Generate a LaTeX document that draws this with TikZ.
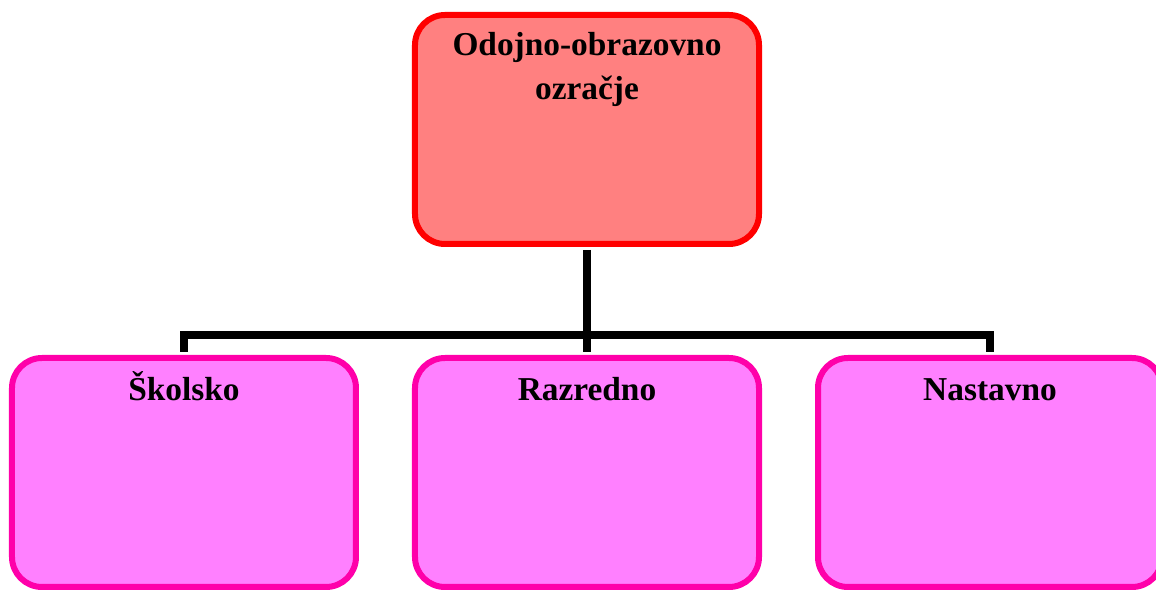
\documentclass[tikz,border=0pt]{standalone}
\usepackage{fontspec}
\setmainfont{Liberation Serif}
\usepackage{tikz}
\usetikzlibrary{shapes,arrows}
\usetikzlibrary{positioning}
\definecolor{boxred}{RGB}{255,0,0}
\definecolor{fillred}{RGB}{255,128,128}
\definecolor{boxpink}{RGB}{255,0,170}
\definecolor{fillpink}{RGB}{255,128,255}
\tikzstyle{box} = [draw, rectangle, rounded corners=0.6cm, line width=0.12cm,
    minimum width=6.88cm, minimum height=4.58cm, inner sep=0pt]
\tikzstyle{head} = [box, draw=boxred, fill=fillred]
\tikzstyle{area} = [box, draw=boxpink, fill=fillpink]
\tikzstyle{title} = [anchor=base, inner sep=0pt, text width=6.5cm, align=center,
    font=\bfseries\fontsize{19}{25}\selectfont]
\tikzstyle{conn} = [draw, line width=0.15cm, shorten <=0.06cm, shorten >=0.06cm]

\begin{document}
\begin{tikzpicture}[node distance = 6.86cm, auto]
  \useasboundingbox (-11.74,2.59) rectangle (11.38,-9.23);
  \node [head] (odo) at (0,0) {};
  \node [area, below of=odo] (raz) {};
  \node [area, left of=raz, node distance = 8.06cm] (sko) {};
  \node [area, right of=raz, node distance = 8.06cm] (nas) {};
  \node [title] (odot) at ([yshift=-0.87cm]odo.north) {Odojno-obrazovno\\ozračje};
  \node [title] (skot) at ([yshift=-0.92cm]sko.north) {Školsko};
  \node [title] (razt) at ([yshift=-0.92cm]raz.north) {Razredno};
  \node [title] (nast) at ([yshift=-0.92cm]nas.north) {Nastavno};
  \coordinate (bus) at ([yshift=-1.76cm]odo.south);
  \draw [conn] (odo.south) -- (raz.north);
  \draw [conn] (sko.north) |- (bus) -| (nas.north);
\end{tikzpicture}
\end{document}
